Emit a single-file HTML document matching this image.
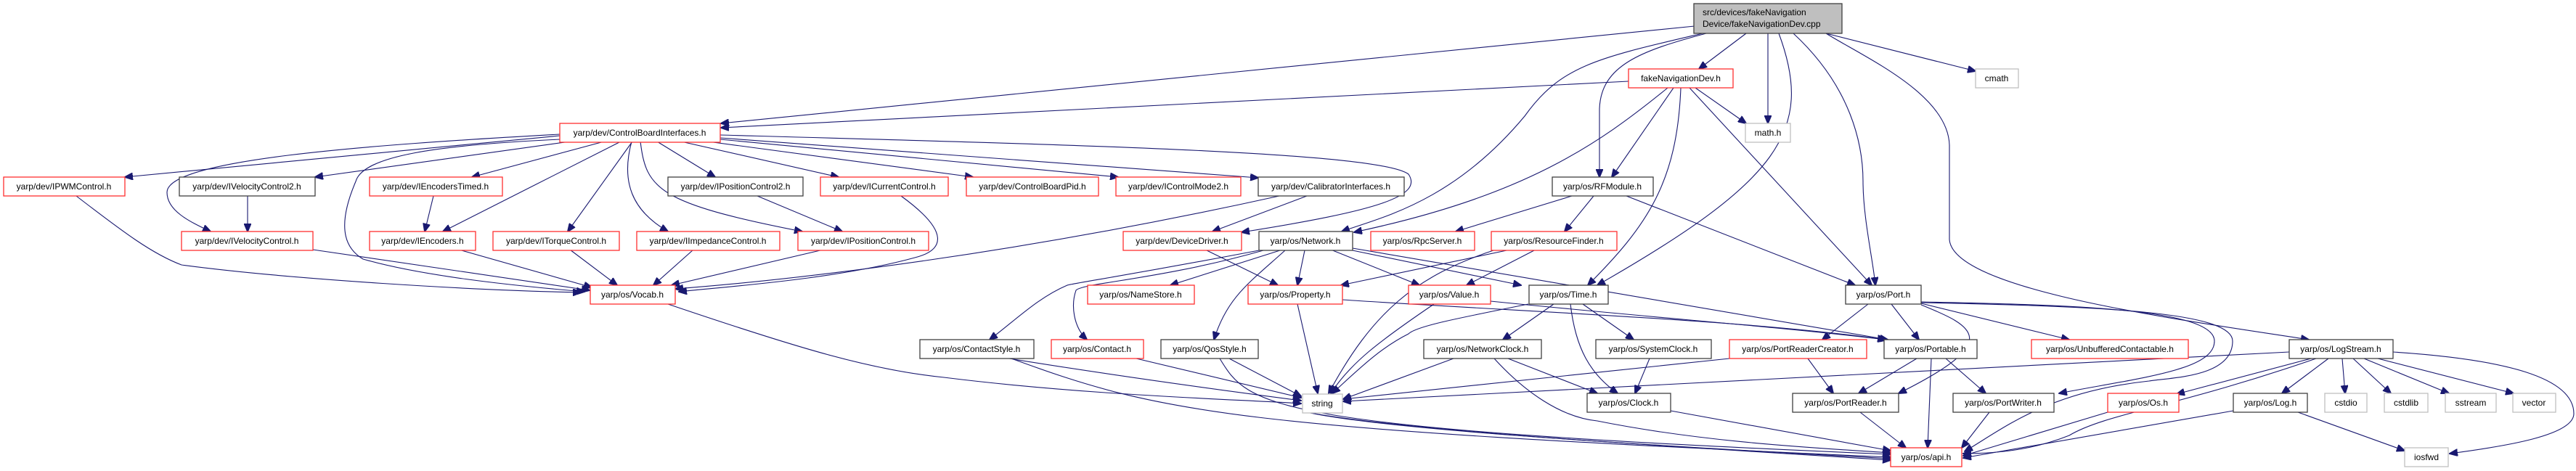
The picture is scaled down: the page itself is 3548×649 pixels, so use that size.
<!DOCTYPE html>
<html><head><meta charset="utf-8"><style>
html,body{margin:0;padding:0;background:#fff;}
svg{display:block;}
text{font-family:"Liberation Sans",Arial,sans-serif;font-size:12px;fill:#000;}
.r{fill:#fff;stroke:#ff3030;stroke-width:1.3;}
.b{fill:#fff;stroke:#404040;stroke-width:1.3;}
.g{fill:#fff;stroke:#bfbfbf;stroke-width:1.3;}
path{fill:none;stroke:#191970;stroke-width:1.1;}
</style></head><body>
<svg width="3548" height="649" viewBox="0 0 3548 649" xmlns="http://www.w3.org/2000/svg">
<defs><marker id="a" markerUnits="userSpaceOnUse" markerWidth="12" markerHeight="10" refX="11" refY="5" orient="auto"><path d="M0,0 L12,5 L0,10 z" style="fill:#191970;stroke:#191970"/></marker></defs>
<g marker-end="url(#a)">
<!-- top node -->
<path d="M2334,36 L993,170"/>
<path d="M2345,46 C2200,80 2150,90 2100,160 C2000,280 1900,300 1848,319"/>
<path d="M2350,46 C2260,70 2205,90 2203,150 L2203,244"/>
<path d="M2405,46 L2340,95"/>
<path d="M2435,46 L2435,170"/>
<path d="M2450,46 C2500,180 2450,250 2200,393"/>
<path d="M2470,46 C2550,120 2566,200 2566,250 C2566,300 2580,360 2583,393"/>
<path d="M2515,46 C2570,80 2683,130 2685,200 L2685,330 C2690,400 3000,440 3180,468"/>
<path d="M2515,46 L2721,98"/>
<!-- fakeNavigationDev.h -->
<path d="M2243,112 L993,176"/>
<path d="M2297,121 C2200,200 2100,270 1865,320"/>
<path d="M2305,121 L2220,244"/>
<path d="M2315,121 C2310,250 2270,310 2187,393"/>
<path d="M2335,121 L2405,170"/>
<path d="M2327,121 L2578,393"/>
<!-- ControlBoardInterfaces -->
<path d="M771,187 L172,244"/>
<path d="M771,185 C500,200 230,220 230,265 C230,290 260,305 290,319"/>
<path d="M785,195 L434,244"/>
<path d="M771,192 C600,200 500,215 490,250 C460,320 480,345 500,357 C580,380 700,393 805,402"/>
<path d="M832,195 L650,244"/>
<path d="M855,195 L610,319"/>
<path d="M871,195 L782,319"/>
<path d="M870,195 C855,250 870,290 920,319"/>
<path d="M882,195 C890,260 905,280 1105,319"/>
<path d="M905,195 L985,244"/>
<path d="M938,195 L1155,244"/>
<path d="M975,195 L1340,244"/>
<path d="M992,192 L1540,244"/>
<path d="M992,190 L1733,245"/>
<path d="M992,186 C1500,200 1900,210 1940,240 C1960,270 1900,290 1710,320"/>
<!-- to Vocab -->
<path d="M1241,270 C1310,320 1300,345 1260,355 C1150,385 1000,395 935,402"/>
<path d="M1762,270 C1400,350 1100,385 930,398"/>
<path d="M1134,344 L925,393"/>
<path d="M955,344 L900,393"/>
<path d="M785,344 L850,393"/>
<path d="M632,344 L815,396"/>
<path d="M431,344 L812,400"/>
<path d="M105,270 C170,320 210,350 250,365 C400,385 650,400 800,403"/>
<path d="M341,270 L341,319"/>
<path d="M597,270 L585,319"/>
<path d="M1043,270 L1160,319"/>
<path d="M1800,270 L1670,319"/>
<!-- Network.h -->
<path d="M1734,345 C1550,380 1480,390 1470,393 C1430,410 1400,440 1363,468"/>
<path d="M1740,345 C1600,385 1490,390 1482,400 C1475,420 1478,450 1497,468"/>
<path d="M1763,345 L1612,393"/>
<path d="M1770,345 C1720,390 1690,410 1672,468"/>
<path d="M1797,345 L1787,393"/>
<path d="M1833,344 L1955,393"/>
<path d="M1858,344 L2095,393"/>
<path d="M1863,342 L2600,468"/>
<path d="M1660,344 L1760,393"/>
<!-- RFModule -->
<path d="M2165,270 L2005,319"/>
<path d="M2195,270 L2155,319"/>
<path d="M2240,270 L2555,393"/>
<!-- ResourceFinder -->
<path d="M2080,344 L1847,393"/>
<path d="M2115,344 L2020,393"/>
<path d="M2060,344 C1950,380 1890,430 1830,542"/>
<path d="M1849,413 C2100,430 2400,440 2597,468"/>
<path d="M2053,415 C2300,440 2450,450 2597,468"/>
<!-- Time -->
<path d="M2105,419 C2000,440 1950,450 1940,460 C1900,480 1870,510 1835,542"/>
<path d="M2140,419 L2070,468"/>
<path d="M2180,419 L2250,468"/>
<path d="M2163,419 C2170,480 2190,515 2228,542"/>
<path d="M1975,419 C1900,470 1860,500 1833,542"/>
<path d="M1787,419 L1815,542"/>
<!-- row6 -->
<path d="M1390,494 C1550,520 1700,540 1792,552"/>
<path d="M1393,494 C1600,570 1700,590 2604,630"/>
<path d="M1565,494 L1792,548"/>
<path d="M1693,494 L1792,546"/>
<path d="M1680,494 C1720,560 1740,590 2604,626"/>
<path d="M920,419 C1100,480 1200,510 1300,520 C1500,545 1700,550 1792,556"/>
<path d="M2002,494 L1850,550"/>
<path d="M2077,494 L2200,542"/>
<path d="M2058,494 C2100,540 2150,575 2200,580 C2350,610 2500,617 2604,624"/>
<path d="M2272,494 L2252,542"/>
<path d="M2301,566 L2604,621"/>
<path d="M1800,568 C1900,590 2200,610 2604,632"/>
<path d="M1805,569 C1950,595 2300,615 2604,634"/>
<!-- Port -->
<path d="M2573,419 L2510,468"/>
<path d="M2605,419 L2643,468"/>
<path d="M2646,418 L2850,468"/>
<path d="M2646,416 C2850,420 3050,425 3050,470 C3050,510 2950,520 2836,542"/>
<path d="M2646,420 C2720,450 2760,470 2615,542"/>
<path d="M2646,417 C2900,422 3075,430 3075,470 C3075,520 2990,520 2960,525 C2820,540 2760,590 2706,622"/>
<path d="M2382,494 L1850,550"/>
<path d="M2490,494 L2525,542"/>
<path d="M2640,494 L2560,542"/>
<path d="M2680,494 L2735,542"/>
<path d="M2660,494 L2655,617"/>
<path d="M2562,568 L2625,617"/>
<path d="M2740,568 L2702,617"/>
<!-- LogStream -->
<path d="M3153,485 L1850,553"/>
<path d="M3183,494 L2998,543"/>
<path d="M3190,494 C3000,560 2900,570 2850,600 C2800,620 2750,625 2704,625"/>
<path d="M3207,494 L3143,542"/>
<path d="M3226,494 L3230,542"/>
<path d="M3241,494 L3293,542"/>
<path d="M3256,494 L3373,542"/>
<path d="M3275,494 L3462,542"/>
<path d="M3296,485 C3450,495 3545,520 3545,570 C3545,600 3450,615 3374,625"/>
<path d="M2903,568 L2704,628"/>
<path d="M3076,566 L2704,631"/>
<path d="M3165,568 L3312,621"/>
</g>
<!-- nodes -->
<rect x="2333" y="5" width="204" height="41" style="fill:#bfbfbf;stroke:#404040;stroke-width:1.3"/>
<text x="2345" y="21">src/devices/fakeNavigation</text>
<text x="2345" y="37">Device/fakeNavigationDev.cpp</text>
<g text-anchor="middle">
<rect class="r" x="2243" y="95" width="144" height="26"/><text x="2315" y="112">fakeNavigationDev.h</text>
<rect class="g" x="2721" y="95" width="59" height="26"/><text x="2750" y="112">cmath</text>
<rect class="r" x="771" y="170" width="221" height="26"/><text x="881" y="187">yarp/dev/ControlBoardInterfaces.h</text>
<rect class="g" x="2404" y="170" width="62" height="26"/><text x="2435" y="187">math.h</text>
<rect class="r" x="5" y="244" width="167" height="26"/><text x="88" y="261">yarp/dev/IPWMControl.h</text>
<rect class="b" x="247" y="244" width="187" height="26"/><text x="340" y="261">yarp/dev/IVelocityControl2.h</text>
<rect class="r" x="509" y="244" width="183" height="26"/><text x="600" y="261">yarp/dev/IEncodersTimed.h</text>
<rect class="b" x="920" y="244" width="186" height="26"/><text x="1013" y="261">yarp/dev/IPositionControl2.h</text>
<rect class="r" x="1130" y="244" width="176" height="26"/><text x="1218" y="261">yarp/dev/ICurrentControl.h</text>
<rect class="r" x="1331" y="244" width="182" height="26"/><text x="1422" y="261">yarp/dev/ControlBoardPid.h</text>
<rect class="r" x="1537" y="244" width="172" height="26"/><text x="1623" y="261">yarp/dev/IControlMode2.h</text>
<rect class="b" x="1733" y="244" width="201" height="26"/><text x="1833" y="261">yarp/dev/CalibratorInterfaces.h</text>
<rect class="b" x="2138" y="244" width="139" height="26"/><text x="2207" y="261">yarp/os/RFModule.h</text>
<rect class="r" x="250" y="319" width="181" height="26"/><text x="340" y="336">yarp/dev/IVelocityControl.h</text>
<rect class="r" x="509" y="319" width="146" height="26"/><text x="582" y="336">yarp/dev/IEncoders.h</text>
<rect class="r" x="679" y="319" width="174" height="26"/><text x="766" y="336">yarp/dev/ITorqueControl.h</text>
<rect class="r" x="877" y="319" width="197" height="26"/><text x="975" y="336">yarp/dev/IImpedanceControl.h</text>
<rect class="r" x="1099" y="319" width="180" height="26"/><text x="1189" y="336">yarp/dev/IPositionControl.h</text>
<rect class="r" x="1547" y="319" width="163" height="26"/><text x="1628" y="336">yarp/dev/DeviceDriver.h</text>
<rect class="b" x="1734" y="319" width="129" height="26"/><text x="1798" y="336">yarp/os/Network.h</text>
<rect class="r" x="1888" y="319" width="143" height="26"/><text x="1959" y="336">yarp/os/RpcServer.h</text>
<rect class="r" x="2054" y="319" width="173" height="26"/><text x="2140" y="336">yarp/os/ResourceFinder.h</text>
<rect class="r" x="813" y="393" width="117" height="26"/><text x="871" y="410">yarp/os/Vocab.h</text>
<rect class="r" x="1498" y="393" width="147" height="26"/><text x="1571" y="410">yarp/os/NameStore.h</text>
<rect class="r" x="1719" y="393" width="130" height="26"/><text x="1784" y="410">yarp/os/Property.h</text>
<rect class="r" x="1940" y="393" width="113" height="26"/><text x="1996" y="410">yarp/os/Value.h</text>
<rect class="b" x="2106" y="393" width="109" height="26"/><text x="2160" y="410">yarp/os/Time.h</text>
<rect class="b" x="2542" y="393" width="104" height="26"/><text x="2594" y="410">yarp/os/Port.h</text>
<rect class="b" x="1267" y="468" width="157" height="26"/><text x="1345" y="485">yarp/os/ContactStyle.h</text>
<rect class="r" x="1448" y="468" width="127" height="26"/><text x="1511" y="485">yarp/os/Contact.h</text>
<rect class="b" x="1599" y="468" width="134" height="26"/><text x="1666" y="485">yarp/os/QosStyle.h</text>
<rect class="b" x="1961" y="468" width="162" height="26"/><text x="2042" y="485">yarp/os/NetworkClock.h</text>
<rect class="b" x="2198" y="468" width="159" height="26"/><text x="2277" y="485">yarp/os/SystemClock.h</text>
<rect class="r" x="2382" y="468" width="189" height="26"/><text x="2476" y="485">yarp/os/PortReaderCreator.h</text>
<rect class="b" x="2595" y="468" width="128" height="26"/><text x="2659" y="485">yarp/os/Portable.h</text>
<rect class="r" x="2798" y="468" width="216" height="26"/><text x="2906" y="485">yarp/os/UnbufferedContactable.h</text>
<rect class="b" x="3153" y="468" width="143" height="26"/><text x="3224" y="485">yarp/os/LogStream.h</text>
<rect class="g" x="1794" y="543" width="55" height="26"/><text x="1821" y="560">string</text>
<rect class="b" x="2186" y="542" width="115" height="26"/><text x="2243" y="559">yarp/os/Clock.h</text>
<rect class="b" x="2469" y="542" width="146" height="26"/><text x="2542" y="559">yarp/os/PortReader.h</text>
<rect class="b" x="2690" y="542" width="139" height="26"/><text x="2759" y="559">yarp/os/PortWriter.h</text>
<rect class="r" x="2903" y="542" width="98" height="26"/><text x="2952" y="559">yarp/os/Os.h</text>
<rect class="b" x="3076" y="542" width="102" height="26"/><text x="3127" y="559">yarp/os/Log.h</text>
<rect class="g" x="3202" y="542" width="58" height="26"/><text x="3231" y="559">cstdio</text>
<rect class="g" x="3284" y="542" width="60" height="26"/><text x="3314" y="559">cstdlib</text>
<rect class="g" x="3368" y="542" width="70" height="26"/><text x="3403" y="559">sstream</text>
<rect class="g" x="3461" y="542" width="59" height="26"/><text x="3490" y="559">vector</text>
<rect class="r" x="2604" y="617" width="98" height="26"/><text x="2653" y="634">yarp/os/api.h</text>
<rect class="g" x="3312" y="617" width="60" height="26"/><text x="3342" y="634">iosfwd</text>
</g>
</svg>
</body></html>
